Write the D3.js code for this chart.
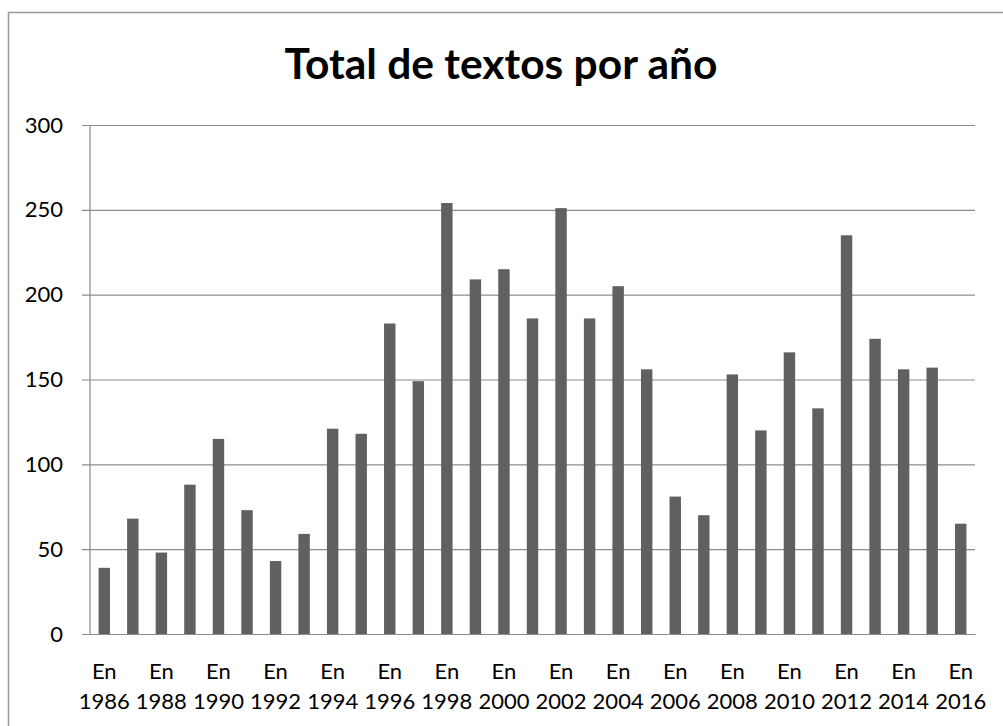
<!DOCTYPE html>
<html><head><meta charset="utf-8"/>
<title>Total de textos por año</title>
<script src="https://cdn.jsdelivr.net/npm/d3@7/dist/d3.min.js"></script>
<style>
  body { margin: 0; padding: 0; background: #fff; }
  svg { display: block; font-family: Lato, 'Open Sans', sans-serif; }
</style>
</head>
<body>
<svg id="chart" width="1003" height="726"></svg>
<script>
// chart data
const years = [1986, 1987, 1988, 1989, 1990, 1991, 1992, 1993, 1994, 1995,
               1996, 1997, 1998, 1999, 2000, 2001, 2002, 2003, 2004, 2005,
               2006, 2007, 2008, 2009, 2010, 2011, 2012, 2013, 2014, 2015, 2016];
const totals = [39, 68, 48, 88, 115, 73, 43, 59, 121, 118,
                183, 149, 254, 209, 215, 186, 251, 186, 205, 156,
                81, 70, 153, 120, 166, 133, 235, 174, 156, 157, 65];
const yTicks = [0, 50, 100, 150, 200, 250, 300];
const labelPrefix = "En";

const svg = d3.select("#chart");

// outer frame (runs off the right and bottom of the picture)
svg.append("rect")
    .attr("x", 8.5).attr("y", 12.5)
    .attr("width", 1100).attr("height", 800)
    .attr("fill", "none")
    .attr("stroke", "#999")
    .attr("stroke-width", 1.5);

// title
svg.append("text")
    .attr("x", 501).attr("y", 79)
    .attr("text-anchor", "middle")
    .attr("font-size", 42.5)
    .attr("font-weight", "bold")
    .attr("fill", "#000")
    .text("Total de textos por año");

const plot = { left: 90, right: 975, top: 125, bottom: 634 };

const x = d3.scaleBand()
    .domain(years)
    .range([plot.left, plot.right])
    .paddingInner(0.6)
    .paddingOuter(0.3);

const y = d3.scaleLinear()
    .domain([0, 300])
    .range([plot.bottom, plot.top]);

// y axis + gridlines
const yAxis = svg.append("g")
    .attr("transform", `translate(82,0)`)
    .call(d3.axisLeft(y)
        .tickValues(yTicks)
        .tickSize(-(plot.right - 82))
        .tickPadding(19));
yAxis.select(".domain").remove();
yAxis.selectAll("line").attr("stroke", "#8c8c8c").attr("stroke-width", 1.2);
yAxis.selectAll("text")
    .attr("font-size", 22)
    .attr("fill", "#000")
    .attr("font-family", "Lato, 'Open Sans', sans-serif");

// vertical axis line
svg.append("line")
    .attr("x1", plot.left).attr("x2", plot.left)
    .attr("y1", plot.top).attr("y2", plot.bottom)
    .attr("stroke", "#8c8c8c").attr("stroke-width", 1.2);

// bars
svg.append("g")
    .selectAll("rect")
    .data(years.map((yr, i) => ({ year: yr, value: totals[i] })))
    .join("rect")
    .attr("x", d => x(d.year))
    .attr("y", d => y(d.value))
    .attr("width", x.bandwidth())
    .attr("height", d => y(0) - y(d.value))
    .attr("fill", "#606060");

// x axis, label every other year on two lines
const xAxis = svg.append("g")
    .attr("transform", `translate(0,${plot.bottom})`)
    .call(d3.axisBottom(x).tickSize(0).tickFormat(""));
xAxis.select(".domain")
    .attr("stroke", "#8c8c8c").attr("stroke-width", 1.2);

const labelled = years.filter((yr, i) => i % 2 === 0);
svg.append("g")
    .selectAll("text")
    .data(labelled)
    .join("text")
    .attr("text-anchor", "middle")
    .attr("font-size", 22)
    .attr("fill", "#000")
    .each(function (d) {
        const cx = x(d) + x.bandwidth() / 2;
        const t = d3.select(this);
        t.append("tspan").attr("x", cx).attr("y", 679).text(labelPrefix);
        t.append("tspan").attr("x", cx).attr("y", 709).text(d);
    });
</script>
</body></html>
